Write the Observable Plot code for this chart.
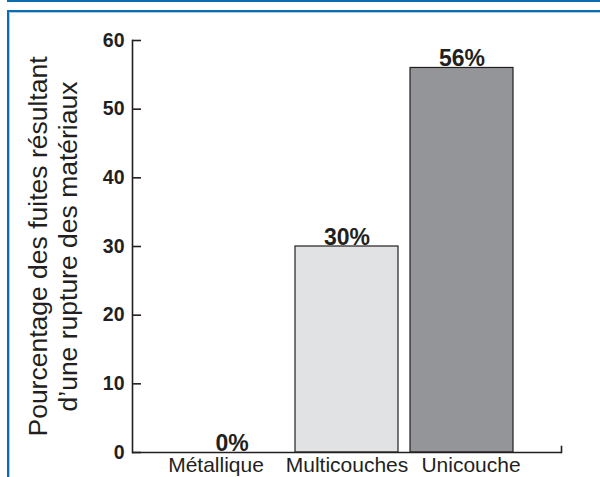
<!DOCTYPE html>
<html>
<head>
<meta charset="utf-8">
<script src="https://cdn.jsdelivr.net/npm/d3@7"></script>
<script src="https://cdn.jsdelivr.net/npm/@observablehq/plot@0.6"></script>
<style>
  html, body { margin: 0; padding: 0; background: #fff; }
  #page { position: relative; width: 600px; height: 477px; overflow: hidden; font-family: "Liberation Sans", Arial, sans-serif; }
  #rule-top { position: absolute; left: 7px; top: 0; right: 0; height: 2px; background: #0b6cb0; }
  #box { position: absolute; left: 7px; top: 10px; right: -4px; bottom: -4px;
         border-top: 2px solid #0b6cb0; border-left: 2px solid #0b6cb0; }
  #box::after { content: ""; position: absolute; left: 0; top: 0; right: 0; bottom: 0;
         border-top: 1px solid #a9cbe6; border-left: 1px solid #a9cbe6; }
  #chart { position: absolute; left: 0; top: 0; }
</style>
</head>
<body>
<div id="page">
  <div id="chart"></div>
  <div id="rule-top"></div>
  <div id="box"></div>
</div>
<script>
// Share of leaks caused by material rupture, by pipe type
const categories = ["Métallique", "Multicouches", "Unicouche"];
const values = [0, 30, 56];
const yTicks = [0, 10, 20, 30, 40, 50, 60];
const yTitle = "Pourcentage des fuites résultant\nd’une rupture des matériaux";

const barFill = {"Métallique": "#ffffff", "Multicouches": "#e1e2e4", "Unicouche": "#939598"};
// horizontal nudge of each category name under its bar, in px
const labelNudge = {"Métallique": -16, "Multicouches": 0, "Unicouche": 9};
const ink = "#231f20";

const data = categories.map((c, i) => ({category: c, value: values[i]}));

const W = 600, H = 477;
const mL = 132, mR = 39, mT = 40, mB = 25;
const frameW = W - mL - mR;

const chart = Plot.plot({
  width: W,
  height: H,
  marginLeft: mL,
  marginRight: mR,
  marginTop: mT,
  marginBottom: mB,
  style: {background: "transparent", fontFamily: "Liberation Sans, Arial, sans-serif", color: ink},
  x: {domain: categories, paddingInner: 0.104, paddingOuter: 0.41, label: null, axis: null},
  y: {domain: [0, 60], label: null},
  marks: [
    Plot.barY(data, {x: "category", y: "value", fill: d => barFill[d.category], stroke: ink, strokeWidth: 1.2}),
    Plot.text(data, {x: "category", y: "value", text: d => `${d.value}%`, lineAnchor: "bottom", dy: -2,
      fontSize: 23, fontWeight: "bold", fill: ink}),
    // axis lines and inward ticks
    Plot.ruleY([0], {stroke: ink, strokeWidth: 1.6}),
    Plot.frame({anchor: "left", stroke: ink, strokeWidth: 1.6}),
    Plot.frame({anchor: "right", insetTop: H - mT - mB - 6, stroke: ink, strokeWidth: 1.6}),
    Plot.tickY(yTicks, {y: d => d, insetRight: frameW - 9, stroke: ink, strokeWidth: 1.6}),
    Plot.axisY(yTicks, {tickSize: 0, tickPadding: 8, fontSize: 19.5, fontWeight: "bold", fill: ink, label: null}),
    // category names below the baseline
    ...categories.map(c => Plot.text([c], {x: d => d, frameAnchor: "bottom", lineAnchor: "top",
      dy: 5, dx: labelNudge[c], fontSize: 21, fill: ink})),
    Plot.text([yTitle], {frameAnchor: "left", textAnchor: "middle", rotate: -90, dx: -80, dy: 0,
      fontSize: 26.5, lineHeight: 1.12, fill: ink})
  ]
});

document.getElementById("chart").appendChild(chart);
</script>
</body>
</html>
